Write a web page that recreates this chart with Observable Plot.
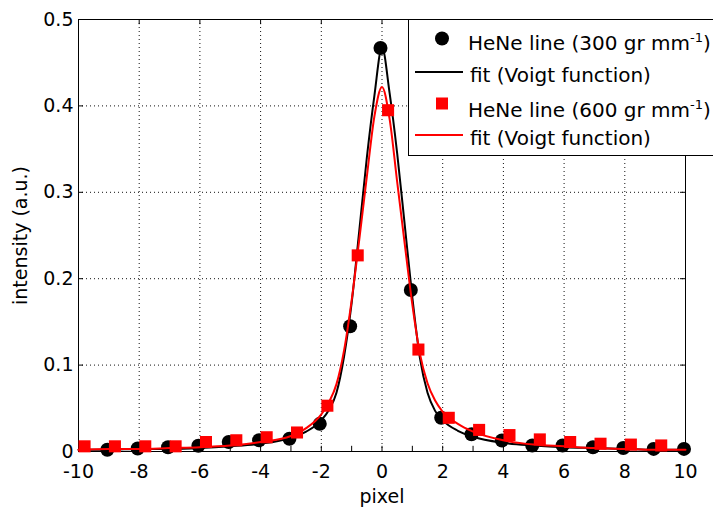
<!DOCTYPE html>
<html><head><meta charset="utf-8">
<script src="https://cdn.jsdelivr.net/npm/d3@7"></script>
<script src="https://cdn.jsdelivr.net/npm/@observablehq/plot@0.6"></script>
<style>
body{margin:0;background:#fff;}
#wrap{position:relative;width:713px;height:509px;overflow:hidden;background:#fff;font-family:"DejaVu Sans",sans-serif;}
#legend{position:absolute;left:0;top:0;pointer-events:none;}
</style></head><body><div id="wrap"></div>
<script>
// measured points, 300 gr/mm
const x300 = [-9.05,-8.05,-7.05,-6.05,-5.05,-4.05,-3.05,-2.05,-1.05,-0.05,0.95,1.95,2.95,3.95,4.95,5.95,6.95,7.95,8.95,9.95];
const y300 = [0.002,0.0035,0.005,0.0066,0.011,0.013,0.0147,0.032,0.145,0.467,0.187,0.039,0.020,0.0127,0.007,0.007,0.005,0.004,0.003,0.003];
// measured points, 600 gr/mm
const x600 = [-9.8,-8.8,-7.8,-6.8,-5.8,-4.8,-3.8,-2.8,-1.8,-0.8,0.2,1.2,2.2,3.2,4.2,5.2,6.2,7.2,8.2,9.2];
const y600 = [0.006,0.006,0.006,0.006,0.011,0.013,0.0165,0.022,0.053,0.227,0.395,0.118,0.039,0.025,0.019,0.014,0.011,0.009,0.008,0.007];
// Voigt fits
const xFit = [-10,-9,-8,-7,-6,-5,-4,-3,-2.5,-2,-1.75,-1.5,-1.25,-1,-0.75,-0.5,-0.25,0,0.25,0.5,0.75,1,1.25,1.5,1.75,2,2.5,3,4,5,6,7,8,9,10];
const yFit300 = [0.002,0.002,0.003,0.003,0.004,0.006,0.009,0.016,0.023,0.036,0.048,0.068,0.110,0.172,0.255,0.340,0.412,0.468,0.415,0.345,0.262,0.178,0.108,0.068,0.047,0.036,0.024,0.017,0.010,0.007,0.005,0.004,0.003,0.002,0.002];
const yFit600 = [0.002,0.003,0.003,0.004,0.005,0.007,0.011,0.018,0.027,0.043,0.057,0.078,0.117,0.175,0.245,0.318,0.388,0.422,0.385,0.312,0.240,0.170,0.113,0.079,0.059,0.046,0.032,0.023,0.013,0.008,0.006,0.004,0.003,0.002,0.002];
// ticks
const xTicks = [-10,-8,-6,-4,-2,0,2,4,6,8,10];
const xMinor = [-10,-9,-8,-7,-6,-5,-4,-3,-2,-1,0,1,2,3,4,5,6,7,8,9,10];
const xGrid = [-8,-6,-4,-2,0,2,4,6,8];
const yTicks = [0,0.1,0.2,0.3,0.4,0.5];
const yGrid = [0.1,0.2,0.3,0.4];
const seriesNames = ["HeNe line (300 gr mm", "fit (Voigt function)", "HeNe line (600 gr mm", "fit (Voigt function)"];

const pts300 = x300.map((x,i)=>({x, y:y300[i]}));
const pts600 = x600.map((x,i)=>({x, y:y600[i]}));
const fit300 = xFit.map((x,i)=>({x, y:yFit300[i]}));
const fit600 = xFit.map((x,i)=>({x, y:yFit600[i]}));

const plot = Plot.plot({
  width:713, height:509,
  marginLeft:78, marginRight:28, marginTop:19, marginBottom:58,
  style:{fontFamily:'"DejaVu Sans", sans-serif', fontSize:"19px", color:"#000", background:"#fff", overflow:"visible"},
  x:{domain:[-10,10]},
  y:{domain:[0,0.5]},
  marks:[
    Plot.ruleX(xGrid,{stroke:"#111", strokeWidth:1, strokeDasharray:"1,3"}),
    Plot.ruleY(yGrid,{stroke:"#111", strokeWidth:1, strokeDasharray:"1,3"}),
    Plot.ruleX(xMinor,{x:d=>d, y1:0, y2:0.006, stroke:"#000"}),
    Plot.ruleX(xTicks,{x:d=>d, y1:0.5, y2:0.494, stroke:"#000"}),
    Plot.ruleY(yTicks,{y:d=>d, x1:-10, x2:-9.835, stroke:"#000"}),
    Plot.ruleY(yTicks,{y:d=>d, x1:10, x2:9.835, stroke:"#000"}),
    Plot.frame({stroke:"#000"}),
    Plot.dot(pts300,{x:"x", y:"y", r:7, fill:"#000", stroke:"none", symbol:"circle"}),
    Plot.line(fit300,{x:"x", y:"y", stroke:"#000", strokeWidth:2, curve:"monotone-x"}),
    Plot.dot(pts600,{x:"x", y:"y", r:6.8, fill:"#ff0000", stroke:"none", symbol:"square"}),
    Plot.line(fit600,{x:"x", y:"y", stroke:"#ff0000", strokeWidth:2, curve:"monotone-x"}),
    Plot.axisX({ticks:xTicks, tickSize:0, tickPadding:13, fontSize:19, tickFormat:d=>String(d), label:"pixel", labelAnchor:"center", labelOffset:51, labelArrow:"none"}),
    Plot.axisY({ticks:yTicks, tickSize:0, tickPadding:5, fontSize:19, tickFormat:d=>String(d), label:"intensity (a.u.)", labelAnchor:"center", labelOffset:65, labelArrow:"none"})
  ]
});
const wrap = document.getElementById("wrap");
wrap.appendChild(plot);

// legend overlay
const ns = "http://www.w3.org/2000/svg";
const lg = document.createElementNS(ns,"svg");
lg.setAttribute("id","legend");
lg.setAttribute("width",713); lg.setAttribute("height",509);
lg.setAttribute("font-family",'"DejaVu Sans", sans-serif');
lg.setAttribute("font-size","20");
function el(tag, attrs, parent){const e=document.createElementNS(ns,tag);for(const k in attrs)e.setAttribute(k,attrs[k]);(parent||lg).appendChild(e);return e;}
el("rect",{x:408.5,y:19.5,width:330,height:136,fill:"#fff",stroke:"#000"});
el("circle",{cx:442,cy:38.5,r:7,fill:"#000"});
el("line",{x1:415,x2:463,y1:72,y2:72,stroke:"#000","stroke-width":2});
el("rect",{x:436,y:97.5,width:12,height:12,fill:"#ff0000"});
el("line",{x1:415,x2:463,y1:135,y2:135,stroke:"#ff0000","stroke-width":2});
const rows = [[468,49.5,true],[470,81.5,false],[468,116.5,true],[470,145,false]];
rows.forEach(([x,y,sup],i)=>{
  const t = el("text",{x,y});
  const a = document.createElementNS(ns,"tspan"); a.textContent = seriesNames[i]; t.appendChild(a);
  if(sup){
    const s = document.createElementNS(ns,"tspan"); s.setAttribute("dy","-8"); s.setAttribute("font-size","13"); s.textContent="-1"; t.appendChild(s);
    const c = document.createElementNS(ns,"tspan"); c.setAttribute("dy","8"); c.textContent=")"; t.appendChild(c);
  }
});
wrap.appendChild(lg);
</script></body></html>
